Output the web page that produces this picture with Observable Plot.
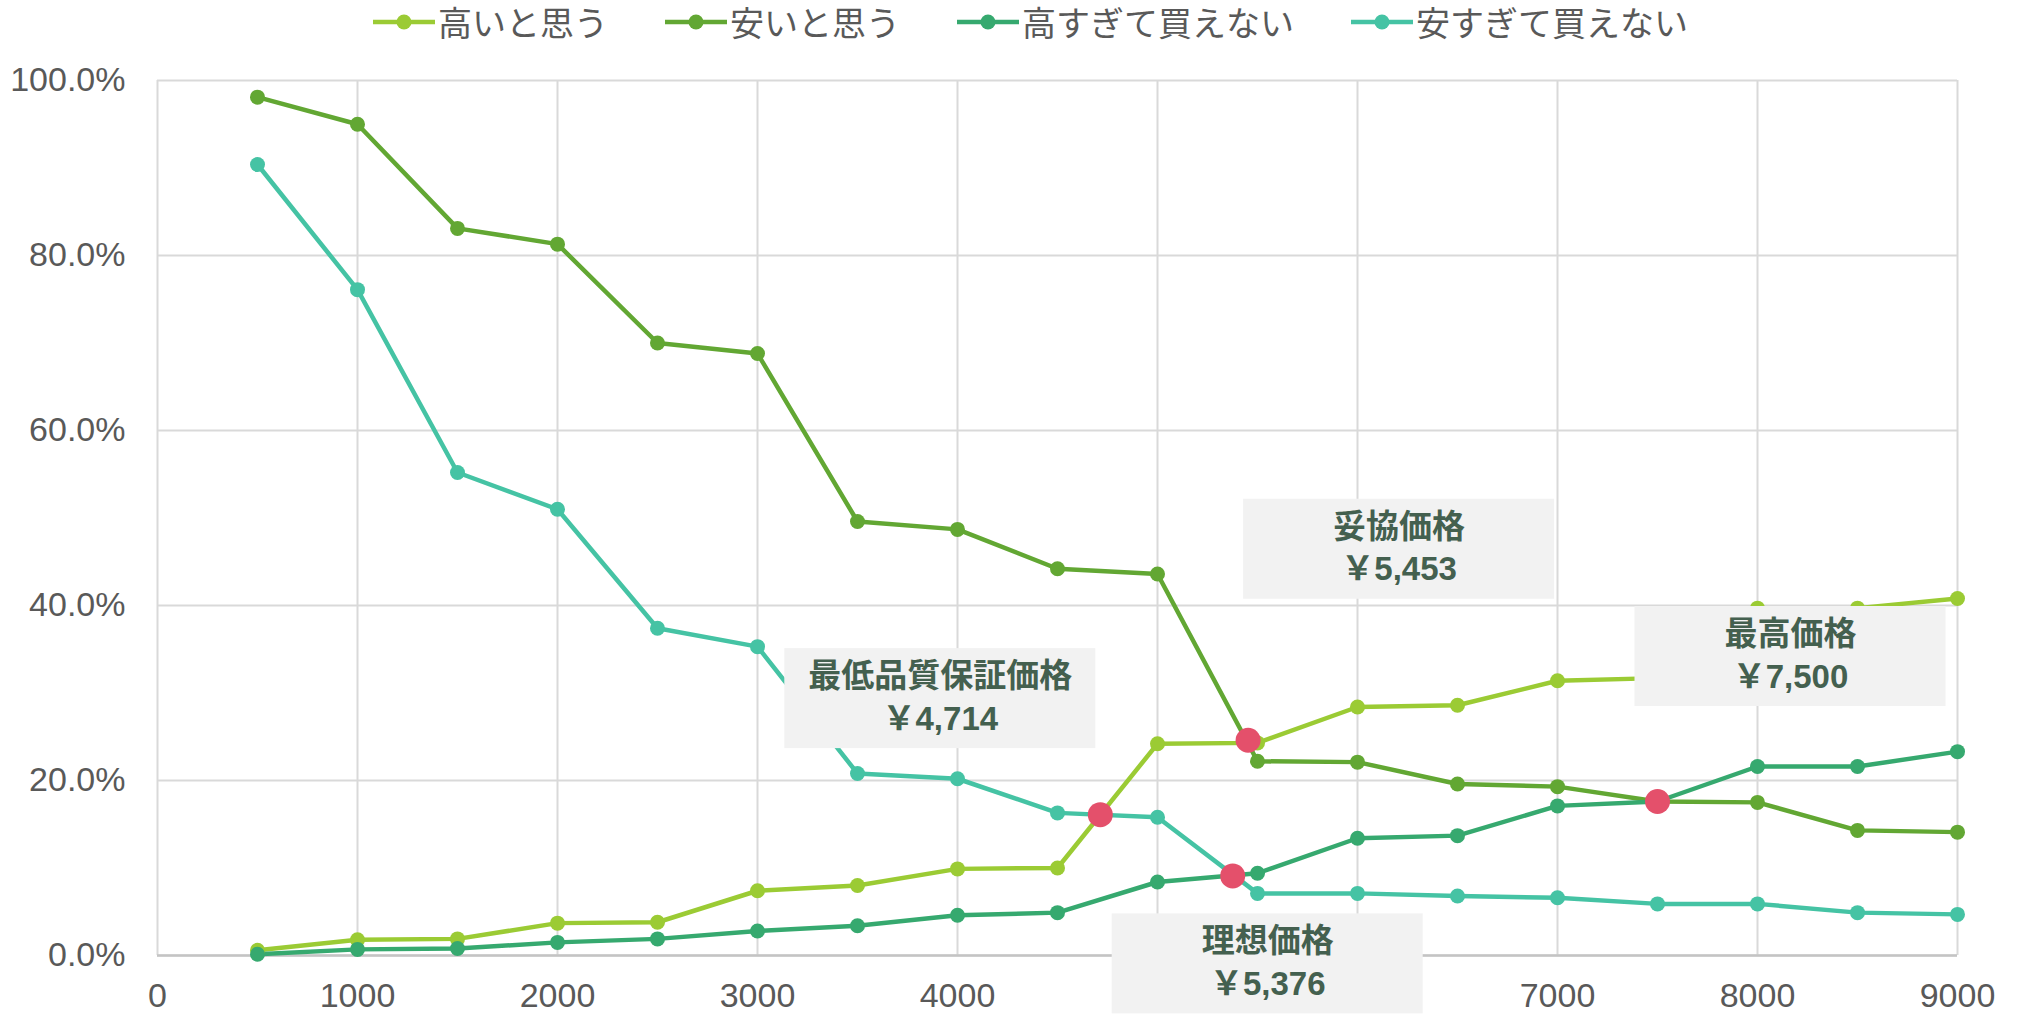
<!DOCTYPE html>
<html>
<head>
<meta charset="utf-8">
<script src="https://cdn.jsdelivr.net/npm/d3@7"></script>
<script src="https://cdn.jsdelivr.net/npm/@observablehq/plot@0.6"></script>
<style>
  html, body { margin: 0; padding: 0; background: #fff; overflow: hidden; }
  #legend { height: 44px; display: flex; align-items: center; padding-left: 373px; gap: 57px; }
  .item { display: flex; align-items: center; font-family: "Noto Sans CJK JP", sans-serif; font-size: 34px; color: #595959; line-height: 44px; }
  .item svg { margin-right: 3px; }
</style>
</head>
<body>
<div id="legend"></div>
<div id="chart"></div>
<script>
// ---- data ----
const prices = [500, 1000, 1500, 2000, 2500, 3000, 3500, 4000, 4500, 5000, 5500, 6000, 6500, 7000, 7500, 8000, 8500, 9000];
const seriesNames = ["高いと思う", "安いと思う", "高すぎて買えない", "安すぎて買えない"];
const takaiValues    = [0.6, 1.8, 1.9, 3.7, 3.8, 7.4, 8.0, 9.9, 10.0, 24.2, 24.3, 28.4, 28.6, 31.4, 31.7, 39.7, 39.7, 40.8];
const yasuiValues    = [98.1, 95.0, 83.1, 81.3, 70.0, 68.8, 49.6, 48.7, 44.2, 43.6, 22.2, 22.1, 19.6, 19.3, 17.6, 17.5, 14.3, 14.1];
const takasugiValues = [0.15, 0.7, 0.8, 1.5, 1.9, 2.8, 3.4, 4.6, 4.9, 8.4, 9.4, 13.4, 13.7, 17.1, 17.6, 21.6, 21.6, 23.3];
const yasusugiValues = [90.4, 76.1, 55.2, 51.0, 37.4, 35.3, 20.8, 20.2, 16.3, 15.8, 7.1, 7.1, 6.8, 6.6, 5.9, 5.9, 4.9, 4.7];
const pointNames  = ["最低品質保証価格", "理想価格", "妥協価格", "最高価格"];
const pointPrices = [4714, 5376, 5453, 7500];
const pointPcts   = [16.1, 9.1, 24.6, 17.6];
const xTicks = [0, 1000, 2000, 3000, 4000, 5000, 6000, 7000, 8000, 9000];
const yTicks = [0, 20, 40, 60, 80, 100];

// ---- styles ----
const seriesColors = ["#9BCB34", "#62A733", "#36A96F", "#45C3A4"];
const pointColor = "#E4506B";
const boxOffsets = [[-160, -116], [35, 88], [151, -191], [133, -145]];

// ---- tables ----
const seriesValues = [takaiValues, yasuiValues, takasugiValues, yasusugiValues];
const rows = [];
seriesNames.forEach((name, k) => prices.forEach((p, i) => rows.push({series: name, price: p, pct: seriesValues[k][i]})));
const points = pointNames.map((name, i) => ({
  name, price: pointPrices[i], pct: pointPcts[i],
  label: "￥" + d3.format(",")(pointPrices[i])
}));

// ---- legend ----
const legend = document.getElementById("legend");
seriesNames.forEach((name, k) => {
  const item = document.createElement("div");
  item.className = "item";
  item.innerHTML = `<svg width="62" height="24"><line x1="0" x2="62" y1="12" y2="12" stroke="${seriesColors[k]}" stroke-width="4.5"/><circle cx="31" cy="12" r="7.5" fill="${seriesColors[k]}"/></svg><span>${name}</span>`;
  legend.appendChild(item);
});

// ---- chart ----
const callouts = points.flatMap((d, i) => [
  Plot.rect([d], {
    x1: "price", x2: "price", y1: "pct", y2: "pct",
    insetLeft: -155.5, insetRight: -155.5, insetTop: -50, insetBottom: -50,
    dx: boxOffsets[i][0], dy: boxOffsets[i][1], fill: "#F2F2F2"
  }),
  Plot.text([d], {
    x: "price", y: "pct", text: (v) => v.name + "\n" + v.label,
    dx: boxOffsets[i][0], dy: boxOffsets[i][1] - 4,
    lineHeight: 1.3, fontSize: 33, fontWeight: "bold", fill: "#44604F",
    fontFamily: "'Liberation Sans', 'Noto Sans CJK JP', sans-serif"
  })
]);

const chart = Plot.plot({
  width: 2020,
  height: 970,
  marginTop: 36,
  marginBottom: 59,
  marginLeft: 157,
  marginRight: 63,
  style: {fontFamily: "'Liberation Sans', 'Noto Sans CJK JP', sans-serif", fontSize: "34px", color: "#595959", background: "#fff"},
  x: {domain: [0, 9000], axis: null},
  y: {domain: [0, 100], axis: null},
  color: {domain: seriesNames, range: seriesColors},
  marks: [
    Plot.gridX(xTicks, {stroke: "#D9D9D9", strokeWidth: 2, strokeOpacity: 1}),
    Plot.gridY(yTicks, {stroke: "#D9D9D9", strokeWidth: 2, strokeOpacity: 1}),
    Plot.ruleY([0], {stroke: "#C4C4C4", strokeWidth: 2.5}),
    Plot.axisX(xTicks, {label: null, tickSize: 0, tickPadding: 27, fill: "#595959", fontSize: 34, tickFormat: (d) => String(d)}),
    Plot.axisY(yTicks, {label: null, tickSize: 0, tickPadding: 32, fill: "#595959", fontSize: 34, tickFormat: (d) => d.toFixed(1) + "%"}),
    Plot.line(rows, {x: "price", y: "pct", z: "series", stroke: "series", strokeWidth: 4.5}),
    Plot.dot(rows, {x: "price", y: "pct", fill: "series", r: 7.5}),
    Plot.dot(points, {x: "price", y: "pct", fill: pointColor, r: 12.5}),
    ...callouts
  ]
});
document.getElementById("chart").appendChild(chart);
</script>
</body>
</html>
